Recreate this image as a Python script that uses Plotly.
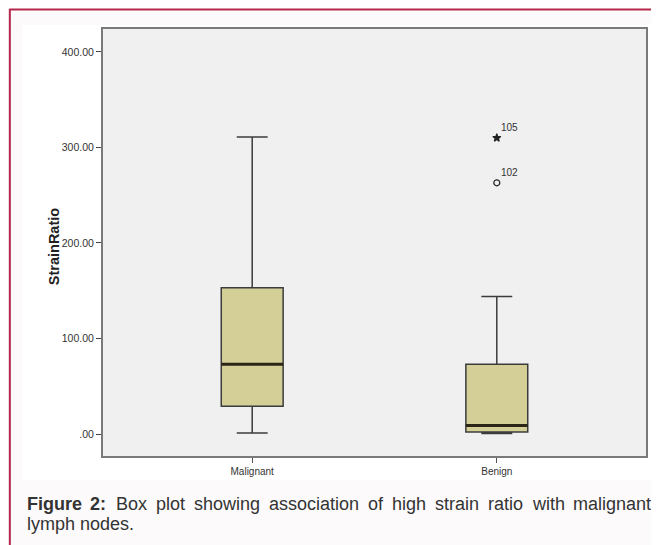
import plotly.graph_objects as go

# ---- data ----
categories = ["Malignant", "Benign"]
lower_whisker = [1, 0.5]
q1 = [29, 2]
median = [73, 9]
q3 = [153, 73]
upper_whisker = [311, 144]

outlier_cat = [1, 1]
outlier_val = [310, 263]
outlier_id = ["105", "102"]
outlier_symbol = ["star", "circle-open"]

y_ticks = [0, 100, 200, 300, 400]
y_ticklabels = [".00", "100.00", "200.00", "300.00", "400.00"]

# ---- layout geometry (page pixels; the page body has an 8px margin) ----
OFF = 8
W, H = 659 - OFF, 545 - OFF
L, R, T, B = 103 - OFF, 648 - OFF, 29 - OFF, 456 - OFF


def px(x):  # page x -> paper fraction
    return (x - OFF - L) / (R - L)


def py(y):  # page y -> paper fraction
    return (B - (y - OFF)) / (B - T)


BOX_W = 0.253
FILL = "#d3cf97"
LINE = "#3c3c3c"
FONT = "Liberation Sans, Arial, sans-serif"

xs = list(range(len(categories)))

fig = go.Figure()
fig.add_trace(go.Box(
    x=xs,
    q1=q1, median=median, q3=q3,
    lowerfence=lower_whisker, upperfence=upper_whisker,
    width=BOX_W, whiskerwidth=0.5,
    fillcolor=FILL,
    line=dict(color=LINE, width=1.5),
    boxpoints=False, showlegend=False, hoverinfo="skip",
))

# outliers
for c, v, s in zip(outlier_cat, outlier_val, outlier_symbol):
    fig.add_trace(go.Scatter(
        x=[c], y=[v], mode="markers",
        marker=dict(symbol=s, size=6,
                    color="#222", line=dict(color="#222", width=1.2)),
        showlegend=False, hoverinfo="skip",
    ))

shapes = []
# white chart area, then the plot background
shapes.append(dict(type="rect", xref="paper", yref="paper", layer="below",
                   x0=px(22), x1=px(655), y0=py(480), y1=py(25),
                   fillcolor="#ffffff", line=dict(width=0)))
shapes.append(dict(type="rect", xref="paper", yref="paper", layer="below",
                   x0=0, x1=1, y0=0, y1=1,
                   fillcolor="#f0f0f0", line=dict(width=0)))
# figure frame (red top and left lines)
shapes.append(dict(type="line", xref="paper", yref="paper",
                   x0=px(9), x1=px(662), y0=py(9.5), y1=py(9.5),
                   line=dict(color="#b5284e", width=2)))
shapes.append(dict(type="line", xref="paper", yref="paper",
                   x0=px(9.5), x1=px(9.5), y0=py(9), y1=py(548),
                   line=dict(color="#b5284e", width=2)))
# thick median lines
for x, m in zip(xs, median):
    shapes.append(dict(type="line", xref="x", yref="y",
                       x0=x - BOX_W / 2, x1=x + BOX_W / 2, y0=m, y1=m,
                       line=dict(color="#2b2517", width=3)))

annotations = []
# outlier labels
for c, v, t in zip(outlier_cat, outlier_val, outlier_id):
    annotations.append(dict(x=c, y=v, xref="x", yref="y", text=t,
                            showarrow=False, xanchor="left", yanchor="bottom",
                            xshift=2, yshift=3,
                            font=dict(family=FONT, size=10, color="#333")))
# y axis title
annotations.append(dict(x=px(44), y=py(247), xref="paper", yref="paper",
                        text="<b>StrainRatio</b>", textangle=-90, showarrow=False,
                        font=dict(family=FONT, size=14.5, color="#222")))

# caption: first line justified between x=114 and x=651 (after the bold label)
CAP_SIZE = 18
ARIAL = {"a": 556, "b": 556, "c": 500, "d": 556, "e": 556, "f": 278, "g": 556,
         "h": 556, "i": 222, "j": 222, "k": 500, "l": 222, "m": 833, "n": 556,
         "o": 556, "p": 556, "q": 556, "r": 333, "s": 500, "t": 278, "u": 556,
         "v": 500, "w": 722, "x": 500, "y": 500, "z": 500, "B": 667}


def text_w(word):
    return sum(ARIAL.get(ch, 556) for ch in word) * CAP_SIZE / 1000


words = "Box plot showing association of high strain ratio with malignant".split()
x_start, x_end = 114, 651
gap = (x_end - x_start - sum(text_w(w) for w in words)) / (len(words) - 1)
cap_words = [("<b>Figure</b>", 25), ("<b>2:</b>", 88)]
xcur = x_start
for w in words:
    cap_words.append((w, xcur))
    xcur += text_w(w) + gap

for w, x in cap_words:
    annotations.append(dict(x=px(x), y=py(504), xref="paper", yref="paper",
                            text=w, showarrow=False, xanchor="left", yanchor="middle",
                            font=dict(family=FONT, size=CAP_SIZE, color="#333")))
annotations.append(dict(x=px(25), y=py(524), xref="paper", yref="paper",
                        text="lymph nodes.", showarrow=False, xanchor="left",
                        yanchor="middle",
                        font=dict(family=FONT, size=CAP_SIZE, color="#333")))

fig.update_layout(
    width=W, height=H,
    margin=dict(l=L, r=W - R, t=T, b=H - B, pad=0),
    paper_bgcolor="#fcfafb",
    plot_bgcolor="rgba(0,0,0,0)",
    shapes=shapes,
    annotations=annotations,
    xaxis=dict(
        range=[-0.61, 1.61], tickvals=xs, ticktext=categories,
        ticks="outside", ticklen=5, tickcolor="#555", tickwidth=1,
        showline=True, mirror=True, linecolor="#7a7a7a", linewidth=2,
        showgrid=False, zeroline=False,
        tickfont=dict(family=FONT, size=10, color="#333"),
    ),
    yaxis=dict(
        range=[-23, 424], tickvals=y_ticks, ticktext=y_ticklabels,
        ticks="outside", ticklen=5, tickcolor="#444", tickwidth=1,
        showline=True, mirror=True, linecolor="#7a7a7a", linewidth=2,
        showgrid=False, zeroline=False,
        tickfont=dict(family=FONT, size=10.5, color="#333"),
    ),
)

fig.write_html("out.html")
